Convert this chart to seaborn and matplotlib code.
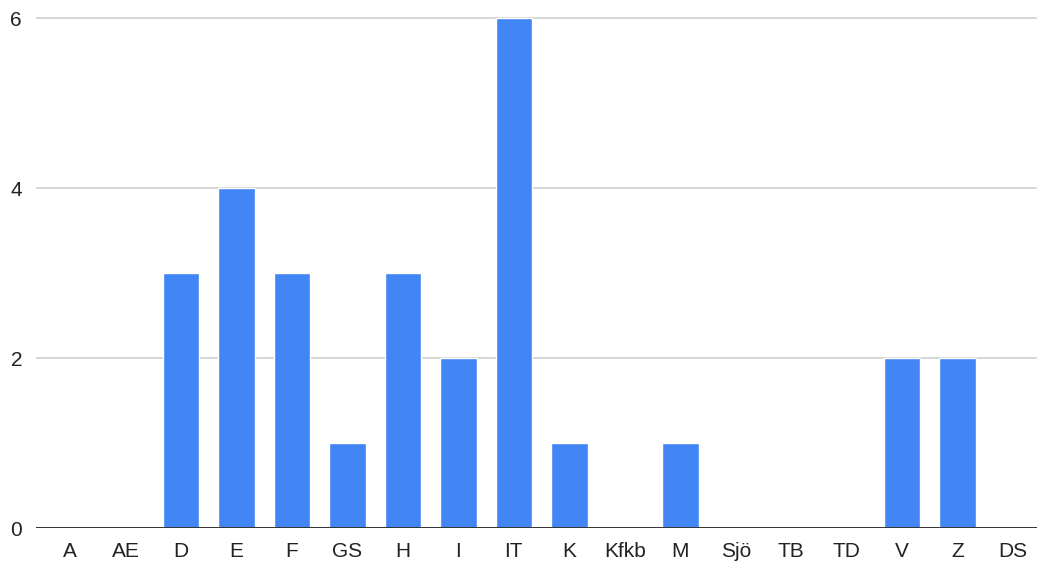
import pandas as pd
import matplotlib
matplotlib.use('Agg')
import matplotlib.pyplot as plt
import seaborn as sns

# Category labels and counts
categories = ['A', 'AE', 'D', 'E', 'F', 'GS', 'H', 'I', 'IT', 'K',
              'Kfkb', 'M', 'Sjö', 'TB', 'TD', 'V', 'Z', 'DS']
counts = [0, 0, 3, 4, 3, 1, 3, 2, 6, 1, 0, 1, 0, 0, 0, 2, 2, 0]
y_ticks = [0, 2, 4, 6]

df = pd.DataFrame({'category': categories, 'count': counts})

sns.set_style('white')
plt.rcParams['font.family'] = ['Liberation Sans', 'DejaVu Sans']

fig = plt.figure(figsize=(10.37, 5.67), dpi=100)
ax = fig.add_axes([36 / 1037, 1 - 528 / 567, 1001 / 1037, (528 - 16) / 567])

sns.barplot(data=df, x='category', y='count', color='#4285F4',
            width=0.66, saturation=1, ax=ax)

ax.set_ylim(0, 6.0 * 512 / 510)
ax.set_xlim(-0.613, len(categories) - 0.57)
ax.set_yticks(y_ticks)
ax.yaxis.grid(True, color='#d0d0d0', linewidth=1.2)
ax.set_axisbelow(True)
ax.axhline(0, color='#333333', linewidth=1.4, zorder=5)

for s in ax.spines.values():
    s.set_visible(False)

ax.tick_params(axis='both', length=0, labelsize=15, colors='#222222')
ax.tick_params(axis='x', pad=10)
ax.tick_params(axis='y', pad=10)
ax.set_xlabel('')
ax.set_ylabel('')

fig.savefig('out.png', dpi=100, facecolor='white')
